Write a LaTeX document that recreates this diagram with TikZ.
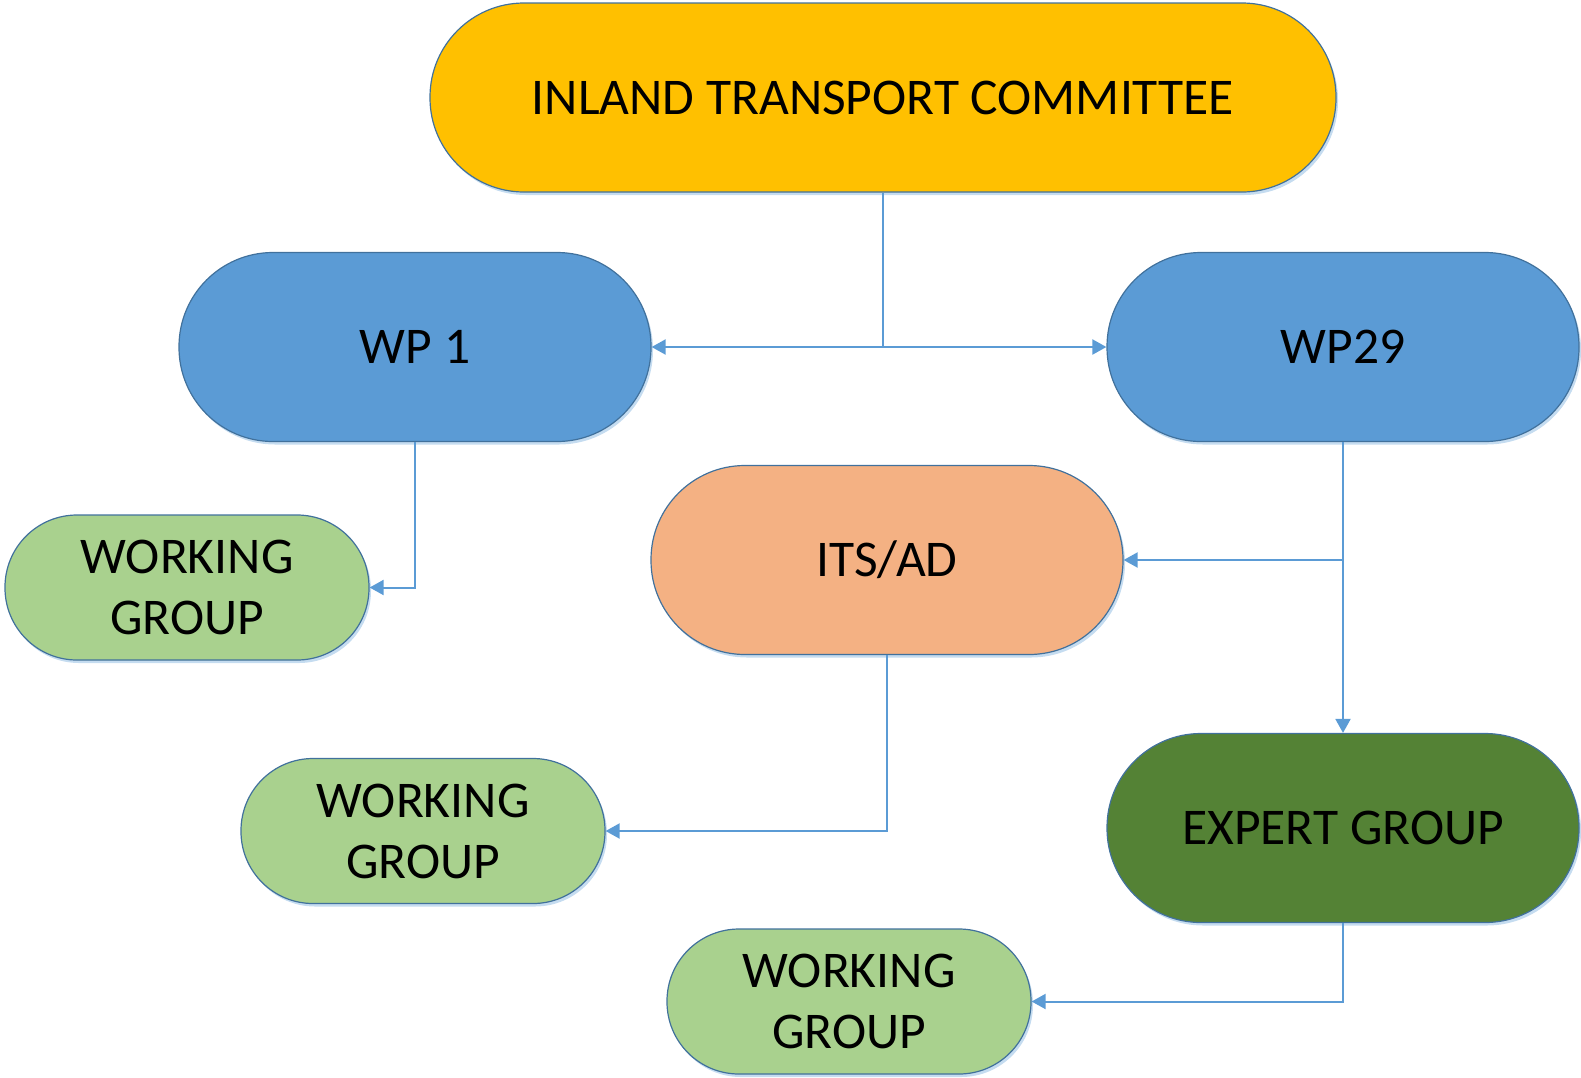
\documentclass[tikz,border=0pt]{standalone}
\usepackage{fontspec}
\setmainfont{Carlito}
\usetikzlibrary{arrows.meta,shadows}
\definecolor{bord}{HTML}{41719C}
\definecolor{conncol}{HTML}{5B9BD5}
\definecolor{shad}{HTML}{C5DCF0}
\definecolor{cgold}{HTML}{FFC000}
\definecolor{cblue}{HTML}{5B9BD5}
\definecolor{corange}{HTML}{F4B183}
\definecolor{cdkgreen}{HTML}{548235}
\definecolor{cltgreen}{HTML}{A9D18E}
\begin{document}
\begin{tikzpicture}[x=1pt,y=-1pt,
  pill/.style={draw=bord, line width=1.2pt, inner sep=0pt, align=center,
    font=\fontsize{51.5}{61}\selectfont,
    drop shadow={shadow xshift=2pt, shadow yshift=-3pt, fill=shad, opacity=1}},
  bigpill/.style={pill, minimum width=472pt, minimum height=189pt, rounded corners=94pt},
  smallpill/.style={pill, minimum width=364pt, minimum height=145pt, rounded corners=72pt},
  conn/.style={draw=conncol, line width=2pt, -{Triangle[length=14pt,width=15pt]}},
  plain/.style={draw=conncol, line width=2pt}]
\useasboundingbox (0,0) rectangle (1581,1077);
\node[bigpill, fill=cgold, minimum width=906pt] (itc) at (883,97.5) {INLAND TRANSPORT COMMITTEE};
\node[bigpill, fill=cblue] (wp1) at (415,347) {WP 1};
\node[bigpill, fill=cblue] (wp29) at (1343,347) {WP29};
\node[bigpill, fill=corange] (its) at (887,560) {ITS/AD};
\node[bigpill, fill=cdkgreen] (exp) at (1343,828) {EXPERT GROUP};
\node[smallpill, fill=cltgreen] (wg1) at (187,587.5) {WORKING\\GROUP};
\node[smallpill, fill=cltgreen] (wg2) at (423,831) {WORKING\\GROUP};
\node[smallpill, fill=cltgreen] (wg3) at (849,1001.5) {WORKING\\GROUP};
\coordinate (j1) at (itc.south |- wp1.east);
\coordinate (j2) at (wp29.south |- its.east);
\draw[plain] (itc.south) -- (j1);
\draw[conn] (j1) -- (wp1.east);
\draw[conn] (j1) -- (wp29.west);
\draw[conn] (j2) -- (its.east);
\draw[conn] (wp29.south) -- (exp.north);
\draw[conn] (wp1.south) |- (wg1.east);
\draw[conn] (its.south) |- (wg2.east);
\draw[conn] (exp.south) |- (wg3.east);
\end{tikzpicture}
\end{document}
